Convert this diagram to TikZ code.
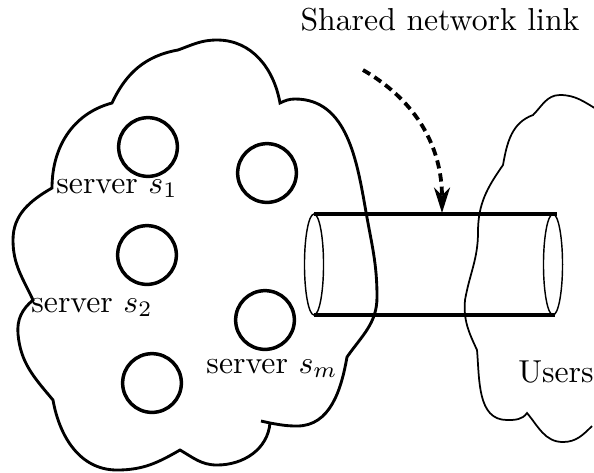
\documentclass[tikz,border=0pt]{standalone}
\usepackage{amsmath,amssymb}
\usepackage{tikz}
\usetikzlibrary{arrows.meta}
\def\servernode{\node[circle,draw,line width=1.1pt,minimum size=18.5pt,inner sep=0pt]}
\def\labelnode{\node[anchor=base,inner sep=0pt]}
\tikzset{farm/.style={line width=0.9pt},
  users/.style={line width=0.55pt},
  pipe/.style={line width=1pt},
  rim/.style={line width=0.45pt}}

\begin{document}
\begin{tikzpicture}[x=0.315pt,y=0.315pt]
\useasboundingbox (0,0) rectangle (594,472);
\labelnode (title) at (440,442) {Shared network link};
\servernode (s1) at (148,325) {};
\servernode (sb) at (267,299) {};
\servernode (s2) at (147,217) {};
\servernode (sm) at (265,152) {};
\servernode (sc) at (152,89) {};
\labelnode (s1label) at (117,279) {server $s_1$};
\labelnode (s2label) at (92,160) {server $s_2$};
\labelnode (smlabel) at (272,99) {server $s_m$};
\labelnode (users) at (556,90) {Users};
\draw[farm] (178,422) to[out=20,in=180] (217,432) to[out=0,in=100] (280,369)
  to[out=25,in=180] (295,373) to[out=0,in=100] (366,260)
  to[out=-80,in=90] (377,175) to[out=-90,in=55] (347,115)
  to[out=-100,in=0] (297,46) to[out=180,in=-10] (270,49) -- (261,51)
  (270,49) to[out=-95,in=0] (217,7) to[out=180,in=-30] (180,22)
  to[out=210,in=0] (117,2) to[out=180,in=-80] (53,72)
  to[out=130,in=-85] (18,138) to[out=95,in=-140] (33,172)
  to[out=115,in=-90] (13,232) to[out=90,in=210] (52,284)
  to[out=90,in=195] (112,369)
  to[out=65,in=190] (178,422);
\draw[users] (598,362) to[out=150,in=0] (560,377) to[out=180,in=45] (533,357)
  to[out=200,in=80] (503,307) to[out=235,in=90] (478,240)
  to[out=-90,in=80] (465,172) to[out=-95,in=115] (477,122)
  to[out=-85,in=180] (507,52) to[out=0,in=235] (527,59)
  to[out=-50,in=180] (563,30) to[out=0,in=225] (592,46);
\coordinate (lt) at (314,258);
\coordinate (lb) at (314,157);
\coordinate (rt) at (557,258);
\coordinate (rb) at (555,157);
\draw[rim] (314,207.5) ellipse [x radius=3pt,y radius=15.9pt];
\draw[rim] (553,207.5) ellipse [x radius=3pt,y radius=15.9pt];
\draw[pipe] (lt) -- (rt);
\draw[pipe] (lb) -- (rb);
\coordinate (arrowstart) at (363,402);
\coordinate (linktop) at (442,259);
\draw[line width=1.2pt,dash pattern=on 2.6pt off 1.6pt,-{Stealth[length=8pt,width=5pt,inset=2.5pt]}]
  (arrowstart) to[out=-30,in=90] (linktop);
\end{tikzpicture}
\end{document}
